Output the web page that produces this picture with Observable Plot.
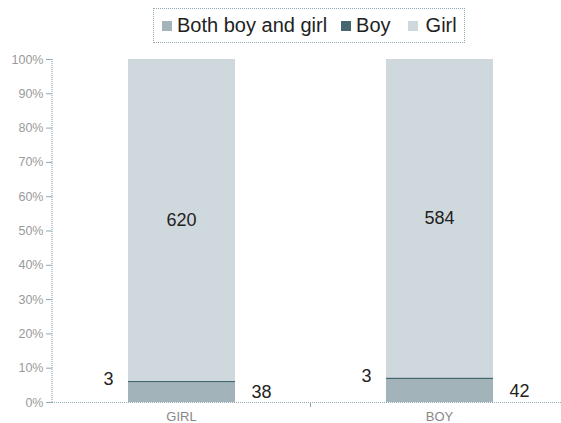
<!DOCTYPE html>
<html>
<head>
<meta charset="utf-8">
<script src="https://cdn.jsdelivr.net/npm/d3@7"></script>
<script src="https://cdn.jsdelivr.net/npm/@observablehq/plot@0.6"></script>
<style>
  html, body { margin: 0; padding: 0; background: #fff; }
  #wrap { position: relative; width: 561px; height: 423px; font-family: "Liberation Sans", Arial, sans-serif; }
  #legend { position: absolute; left: 153px; top: 8px; width: 312px; height: 35px; border: 1px dotted #8fa9b5;
    display: flex; align-items: center; justify-content: flex-start; padding-left: 8px; font-size: 20px; color: #222; box-sizing: border-box; }
  #legend span.item { display: inline-flex; align-items: center; }
  #legend span.sw { display: inline-block; width: 10px; height: 10px; margin-right: 5px; }
  #chart { position: absolute; left: 0; top: 0; }
</style>
</head>
<body>
<div id="wrap">
  <div id="chart"></div>
  <div id="legend"></div>
</div>
<script>
const categories = ["GIRL", "BOY"];
const seriesNames = ["Both boy and girl", "Boy", "Girl"];
const bothValues = [38, 42];
const boyValues = [3, 3];
const girlValues = [620, 584];
const yTicks = [0, 0.1, 0.2, 0.3, 0.4, 0.5, 0.6, 0.7, 0.8, 0.9, 1];
const colors = ["#a2b3ba", "#46666f", "#cfd8dd"];

const seriesValues = [bothValues, boyValues, girlValues];
const rows = [];
categories.forEach((c, i) => {
  const total = bothValues[i] + boyValues[i] + girlValues[i];
  let acc = 0;
  seriesNames.forEach((s, k) => {
    const share = seriesValues[k][i] / total;
    rows.push({category: c, series: s, value: seriesValues[k][i], share, lo: acc, hi: acc + share, mid: acc + share / 2});
    acc += share;
  });
});

const girlRows = rows.filter(d => d.series === "Girl");
const boyRows = rows.filter(d => d.series === "Boy");
const bothRows = rows.filter(d => d.series === "Both boy and girl");

const plot = Plot.plot({
  width: 561,
  height: 423,
  marginLeft: 52,
  marginRight: 0,
  marginTop: 59,
  marginBottom: 21,
  style: {fontFamily: "'Liberation Sans', Arial, sans-serif", background: "transparent"},
  x: {domain: categories, range: [52, 568], padding: 0, label: null},
  y: {domain: [0, 1], label: null},
  color: {domain: seriesNames, range: colors},
  marks: [
    Plot.barY(rows, {x: "category", y: "share", fill: "series", order: seriesNames, insetLeft: 76, insetRight: 75}),
    Plot.ruleY([0], {stroke: "#8fa9b5", strokeDasharray: "1,1", strokeWidth: 1.2}),
    Plot.axisY({ticks: yTicks, tickFormat: d3.format(".0%"), tickSize: 6, tickPadding: 3, fontSize: 12.5, fill: "#9a9a9a", stroke: "#8fa9b5", anchor: "left", label: null}),
    Plot.axisX({tickSize: 0, tickPadding: 9, fontSize: 13, fill: "#888", label: null}),
    Plot.ruleX(categories.slice(0, 1), {x: d => d, dx: 129, y1: 0, y2: 0, insetBottom: -5, stroke: "#8fa9b5"}),
    Plot.text(girlRows, {x: "category", y: "mid", text: d => String(d.value), fontSize: 18, fill: "#222"}),
    Plot.text(boyRows, {x: "category", y: "hi", text: d => String(d.value), fontSize: 18, fill: "#222", dx: -73, dy: -2}),
    Plot.text(bothRows, {x: "category", y: "mid", text: d => String(d.value), fontSize: 18, fill: "#222", dx: 80})
  ]
});

// y axis line
d3.select(plot).append("line")
  .attr("x1", 52).attr("x2", 52).attr("y1", 59).attr("y2", 402)
  .attr("stroke", "#8fa9b5").attr("stroke-dasharray", "1,1").attr("stroke-width", 1.2);

document.getElementById("chart").appendChild(plot);

const legend = document.getElementById("legend");
const gaps = [14, 17, 0];
seriesNames.forEach((s, k) => {
  const item = document.createElement("span");
  item.className = "item";
  item.style.marginRight = gaps[k] + "px";
  const sw = document.createElement("span");
  sw.className = "sw";
  sw.style.background = colors[k];
  if (k === 2) sw.style.marginRight = "8px";
  item.appendChild(sw);
  item.appendChild(document.createTextNode(s));
  legend.appendChild(item);
});
</script>
</body>
</html>
